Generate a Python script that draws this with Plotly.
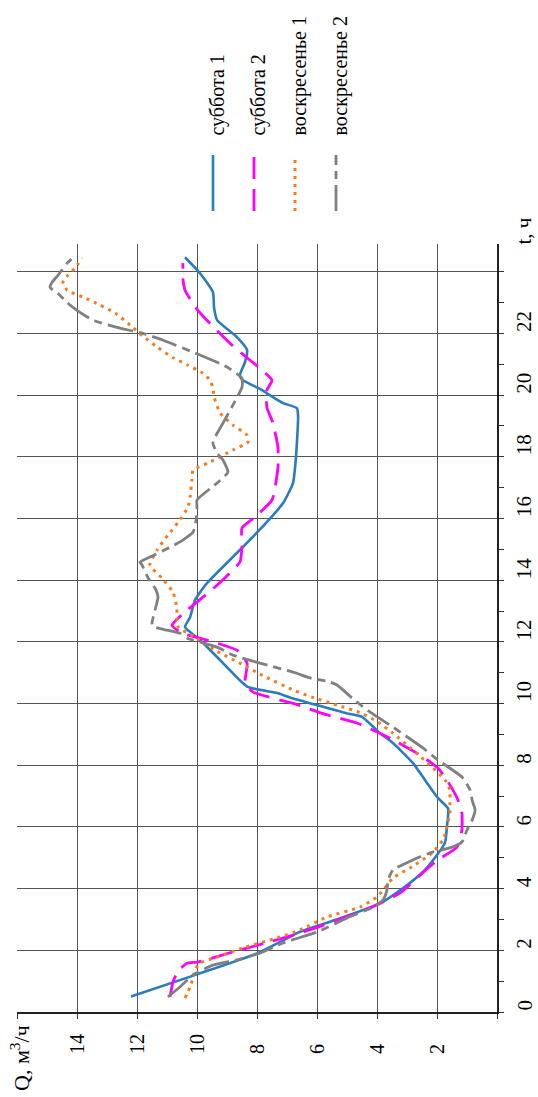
import plotly.graph_objects as go

# Hourly water consumption, Q (m3/h) versus time of day t (h)
t_sat1 = [0.5, 1.22, 1.9, 2.27, 2.6, 2.98, 3.52, 4.02, 4.54, 5.09,
          5.5, 6.0, 6.6, 6.94, 7.52, 8.07, 8.72, 9.04, 9.57, 9.68,
          9.95, 10.2, 10.34, 10.55, 11.41, 12.06, 12.48, 12.8, 13.35, 13.9,
          14.98, 15.8, 16.5, 17.15, 18.0, 19.3, 19.58, 19.74, 20.06, 20.2,
          20.5, 20.65, 21.07, 21.46, 21.88, 22.43, 22.82, 23.34, 23.95, 24.47]
q_sat1 = [12.2, 10.0, 8.0, 7.23, 6.57, 5.4, 3.9, 3.13, 2.47, 2.0,
          1.73, 1.67, 1.63, 1.97, 2.4, 2.8, 3.47, 3.9, 4.5, 5.0,
          6.0, 6.9, 7.33, 8.33, 9.23, 9.9, 10.4, 10.23, 10.07, 9.67,
          8.57, 7.75, 7.13, 6.8, 6.7, 6.63, 6.67, 7.13, 7.67, 7.9,
          8.5, 8.57, 8.4, 8.33, 8.67, 9.33, 9.43, 9.47, 9.9, 10.4]

t_sat2 = [0.49, 0.97, 1.33, 1.58, 1.62, 1.95, 2.07, 2.37, 2.56, 2.72,
          3.37, 3.86, 4.67, 4.93, 5.35, 5.9, 6.45, 6.94, 7.52, 7.91,
          8.33, 8.88, 9.08, 9.37, 9.68, 10.0, 10.37, 10.66, 11.31, 11.73,
          11.96, 12.12, 12.28, 12.54, 13.03, 13.29, 13.78, 14.07, 14.59, 15.07,
          15.69, 16.0, 16.6, 17.67, 18.3, 19.1, 19.6, 20.16, 20.48, 20.87,
          21.13, 21.62, 22.43, 22.75, 23.4, 23.79, 24.28]
q_sat2 = [10.9, 10.8, 10.63, 10.33, 9.97, 8.8, 8.33, 7.23, 6.57, 6.07,
          4.23, 3.23, 2.3, 1.97, 1.33, 1.17, 1.17, 1.33, 1.67, 1.97,
          2.57, 3.57, 4.0, 4.67, 5.83, 6.77, 8.13, 8.4, 8.33, 8.67,
          9.33, 9.9, 10.5, 10.83, 10.33, 10.0, 9.4, 9.07, 8.57, 8.5,
          8.5, 8.13, 7.5, 7.3, 7.3, 7.47, 7.67, 7.67, 7.5, 7.9,
          8.23, 8.83, 9.67, 9.97, 10.4, 10.47, 10.47]

t_sun1 = [0.45, 0.81, 1.1, 1.36, 1.59, 1.78, 2.07, 2.4, 2.66, 3.08,
          3.4, 3.73, 3.95, 4.34, 4.67, 5.15, 5.58, 6.0, 6.45, 6.87,
          7.2, 7.52, 7.91, 8.49, 9.04, 9.4, 9.68, 9.95, 10.21, 10.44,
          10.92, 11.31, 11.73, 12.19, 12.48, 12.77, 13.1, 13.61, 14.07, 14.49,
          14.98, 15.46, 15.88, 16.37, 16.7, 17.24, 17.57, 17.8, 18.22, 18.48,
          18.7, 19.03, 19.42, 19.94, 20.23, 20.49, 20.71, 20.97, 21.23, 21.56,
          21.91, 22.27, 22.66, 22.92, 23.18, 23.4, 23.66, 23.89, 24.12, 24.44]
q_sun1 = [10.4, 10.23, 10.13, 10.07, 9.9, 9.33, 8.5, 7.33, 6.57, 5.67,
          4.57, 4.0, 3.8, 3.47, 2.9, 2.17, 1.8, 1.67, 1.57, 1.57,
          1.57, 1.73, 2.13, 2.8, 3.47, 3.97, 4.5, 5.33, 6.17, 6.8,
          7.83, 8.57, 9.4, 10.13, 10.63, 10.67, 10.67, 10.8, 11.17, 11.57,
          11.33, 10.97, 10.63, 10.3, 10.23, 10.17, 10.13, 9.63, 8.8, 8.3,
          8.33, 8.8, 9.23, 9.43, 9.47, 9.57, 9.8, 10.3, 10.83, 11.33,
          11.8, 12.23, 12.73, 13.23, 13.8, 14.33, 14.47, 14.3, 14.07, 13.83]

t_sun2 = [0.49, 0.81, 1.2, 1.52, 1.69, 1.91, 2.24, 2.59, 3.05, 3.4,
          3.63, 3.95, 4.28, 4.6, 4.93, 5.19, 5.32, 5.51, 5.9, 6.22,
          6.55, 6.87, 7.2, 7.62, 8.17, 8.56, 9.24, 9.72, 10.18, 10.6,
          10.7, 10.83, 11.0, 11.31, 11.57, 11.83, 12.0, 12.12, 12.28, 12.38,
          12.5, 12.61, 13.03, 13.45, 13.74, 14.07, 14.49, 14.59, 14.75, 15.07,
          15.3, 15.56, 15.95, 16.34, 16.6, 17.15, 17.5, 17.89, 18.12, 18.44,
          18.64, 18.93, 20.26, 20.55, 20.91, 21.3, 21.78, 22.0, 22.2, 22.43,
          22.75, 23.0, 23.24, 23.5, 23.66, 23.89, 24.28, 24.54]
q_sun2 = [10.97, 10.57, 10.13, 9.47, 8.67, 7.9, 7.13, 6.0, 5.0, 4.13,
          3.8, 3.67, 3.63, 3.47, 2.8, 2.13, 1.57, 1.17, 1.0, 0.83,
          0.73, 0.83, 0.9, 1.17, 1.97, 2.47, 3.47, 4.23, 4.83, 5.33,
          5.57, 6.23, 6.73, 7.9, 8.8, 9.33, 9.9, 10.33, 10.57, 11.0,
          11.47, 11.5, 11.4, 11.3, 11.4, 11.63, 11.83, 11.9, 11.57, 10.9,
          10.47, 10.13, 10.03, 10.0, 10.0, 9.33, 8.97, 9.13, 9.33, 9.47,
          9.4, 9.23, 8.5, 8.5, 9.0, 9.9, 11.13, 11.8, 12.67, 13.47,
          14.0, 14.33, 14.57, 14.9, 14.83, 14.63, 14.33, 14.03]

series_names = ["суббота 1", "суббота 2", "воскресенье 1", "воскресенье 2"]
q_ticks = [2, 4, 6, 8, 10, 12, 14]
t_ticks = [0, 2, 4, 6, 8, 10, 12, 14, 16, 18, 20, 22]

FONT = "Liberation Serif"
W, H = 538, 1097
L, R, T, B = 17, 41, 244, 85
PW, PH = W - L - R, H - T - B


def px_x(x):
    return (x - L) / PW


def px_y(y):
    return (H - B - y) / PH


styles = [
    dict(color="#2A7BC0", width=2.6, dash="solid"),
    dict(color="#FF00FF", width=2.8, dash="22px,10px"),
    dict(color="#F47B20", width=3.0, dash="3px,5px"),
    dict(color="#808080", width=2.8, dash="26px,6px,8px,6px"),
]
data = [(t_sat1, q_sat1), (t_sat2, q_sat2), (t_sun1, q_sun1), (t_sun2, q_sun2)]

fig = go.Figure()
for name, (tt, qq), st in zip(series_names, data, styles):
    fig.add_trace(go.Scatter(
        x=qq, y=tt, mode="lines", name=name, showlegend=False,
        line=dict(color=st["color"], width=st["width"], dash=st["dash"],
                  shape="spline", smoothing=0.5),
        hoverinfo="skip"))

annotations = []
# Q tick labels (rotated)
for q in q_ticks:
    annotations.append(dict(x=q, xref="x", y=px_y(1055), yref="paper",
                            text=str(q), textangle=-90, showarrow=False,
                            xanchor="center", yanchor="bottom", borderpad=0,
                            font=dict(family=FONT, size=20, color="black")))
# t tick labels (rotated)
for t in t_ticks:
    annotations.append(dict(x=px_x(511), xref="paper", y=t, yref="y",
                            text=str(t), textangle=-90, showarrow=False,
                            xanchor="left", yanchor="bottom", borderpad=0,
                            font=dict(family=FONT, size=21, color="black")))
# axis titles
annotations.append(dict(x=px_x(20), xref="paper", y=px_y(1092), yref="paper",
                        text="Q, м<sup>3</sup>/ч", textangle=-90, showarrow=False,
                        xanchor="center", yanchor="bottom", borderpad=0,
                        font=dict(family=FONT, size=22, color="black")))
annotations.append(dict(x=px_x(511), xref="paper", y=px_y(246), yref="paper",
                        text="t, ч", textangle=-90, showarrow=False,
                        xanchor="left", yanchor="bottom", borderpad=0,
                        font=dict(family=FONT, size=21, color="black")))

# legend: rotated labels with line samples
legend_x = [213, 254, 295, 336]
shapes = []
for name, st, lx in zip(series_names, styles, legend_x):
    annotations.append(dict(x=px_x(lx + 4), xref="paper", y=px_y(137), yref="paper",
                            text=name, textangle=-90, showarrow=False,
                            xanchor="center", yanchor="bottom", borderpad=0,
                            font=dict(family=FONT, size=20, color="black")))
    shapes.append(dict(type="line", xref="paper", yref="paper",
                       x0=px_x(lx), x1=px_x(lx), y0=px_y(211), y1=px_y(155),
                       line=dict(color=st["color"], width=st["width"], dash=st["dash"])))

fig.update_layout(
    width=W, height=H,
    margin=dict(l=L, r=R, t=T, b=B),
    paper_bgcolor="white", plot_bgcolor="white",
    showlegend=False,
    annotations=annotations,
    shapes=shapes,
    xaxis=dict(range=[16, 0], tickvals=list(range(0, 17, 2)), showticklabels=False,
               ticks="outside", ticklen=5, tickcolor="#333", tickwidth=1,
               showgrid=True, gridcolor="#555", gridwidth=1,
               showline=True, linecolor="#222", linewidth=1.5, zeroline=False,
               fixedrange=True),
    yaxis=dict(range=[0, 24.9], side="right", tickvals=list(range(0, 25, 2)),
               showticklabels=False, ticks="outside", ticklen=5, tickcolor="#333",
               tickwidth=1,
               minor=dict(tickvals=list(range(1, 25, 2)), ticks="outside", ticklen=5,
                          tickcolor="#333", showgrid=False),
               showgrid=True, gridcolor="#555", gridwidth=1,
               showline=True, linecolor="#222", linewidth=1.5, zeroline=False,
               fixedrange=True),
)

fig.write_html("out.html")
